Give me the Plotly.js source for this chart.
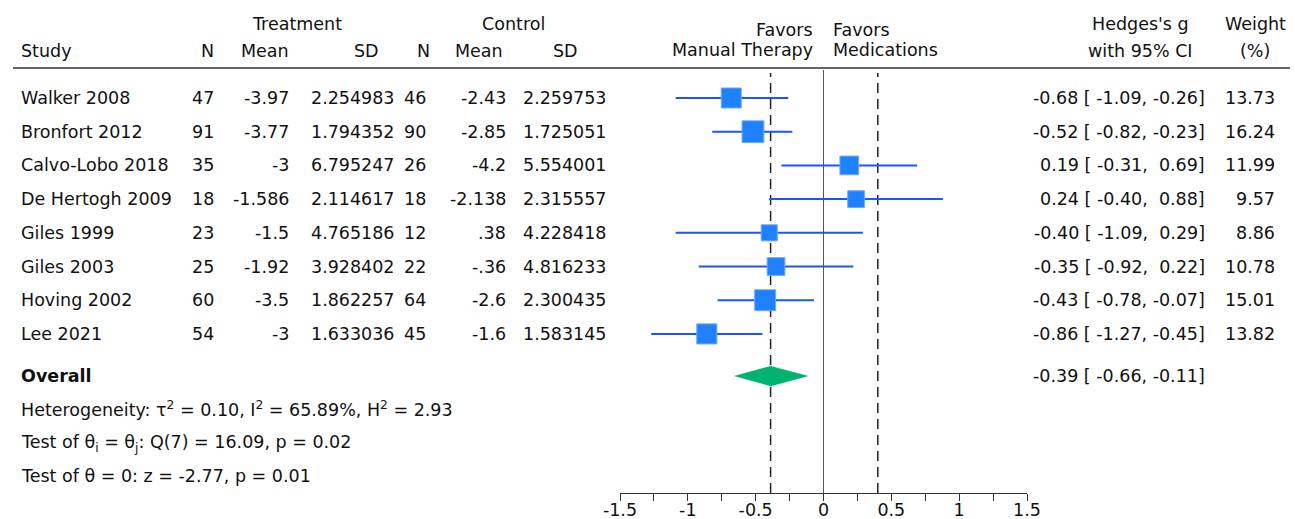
<!DOCTYPE html>
<html>
<head>
<meta charset="utf-8">
<script src="https://cdn.plot.ly/plotly-3.0.1.min.js"></script>
<style>html,body{margin:0;padding:0;background:#fff;}#chart{width:1295px;height:519px;}</style>
</head>
<body>
<div id="chart"></div>
<script>
// ---------- data ----------
const studies = ["Walker 2008","Bronfort 2012","Calvo-Lobo 2018","De Hertogh 2009","Giles 1999","Giles 2003","Hoving 2002","Lee 2021"];
const treatN = [47, 91, 35, 18, 23, 25, 60, 54];
const treatMean = [-3.97, -3.77, -3, -1.586, -1.5, -1.92, -3.5, -3];
const treatSD = ["2.254983","1.794352","6.795247","2.114617","4.765186","3.928402","1.862257","1.633036"];
const ctrlN = [46, 90, 26, 18, 12, 22, 64, 45];
const ctrlMean = [-2.43, -2.85, -4.2, -2.138, 0.38, -0.36, -2.6, -1.6];
const ctrlSD = ["2.259753","1.725051","5.554001","2.315557","4.228418","4.816233","2.300435","1.583145"];
const hedgesG = [-0.68, -0.52, 0.19, 0.24, -0.40, -0.35, -0.43, -0.86];
const ciLow = [-1.09, -0.82, -0.31, -0.40, -1.09, -0.92, -0.78, -1.27];
const ciHigh = [-0.26, -0.23, 0.69, 0.88, 0.29, 0.22, -0.07, -0.45];
const weights = [13.73, 16.24, 11.99, 9.57, 8.86, 10.78, 15.01, 13.82];
const overallG = -0.39, overallLow = -0.66, overallHigh = -0.11;
const refLines = [-0.39, 0.40];
const tickVals = [-1.5, -1, -0.5, 0, 0.5, 1, 1.5];
const tickLabels = ["-1.5", "-1", "-0.5", "0", "0.5", "1", "1.5"];
const minorTickVals = [-1.25, -0.75, -0.25, 0.25, 0.75, 1.25];
const statLines = [
  "Heterogeneity: \u03c4<sup>2</sup> = 0.10, I<sup>2</sup> = 65.89%, H<sup>2</sup> = 2.93",
  "Test of \u03b8<sub>i</sub> = \u03b8<sub>j</sub>: Q(7) = 16.09, p = 0.02",
  "Test of \u03b8 = 0: z = -2.77, p = 0.01"
];

// ---------- layout helpers ----------
const W = 1295, H = 519;
const L = 620, R = 268, T = 70, B = 26;
const plotW = W - L - R, plotH = H - T - B;
const X = px => (px - L) / plotW;
const Y = py => (H - B - py) / plotH;
const FONT = "DejaVu Sans, sans-serif";
const FS = 17.5;
const TXT = "#111";
const rowY = studies.map((s, i) => i + 1);
const overallY = 9.25;
const statY = [10.23, 11.24, 12.22];
const NB = "\u00a0";

const fmtMean = v => String(v).replace(/^(-?)0\./, "$1.");
const f2 = v => v.toFixed(2);
const ciText = (g, lo, hi) => f2(g) + NB + "[" + NB + f2(lo) + "," + NB + (hi >= 0 ? NB : "") + f2(hi) + "]";

const ann = [];
function txt(text, x, y, anchor) {
  ann.push({text: text, x: x, y: y, xref: "paper", yref: "y",
    xanchor: anchor, yanchor: "middle", showarrow: false,
    font: {family: FONT, size: FS, color: TXT}});
}
function head(text, x, py, anchor) {
  ann.push({text: text, x: x, y: Y(py), xref: "paper", yref: "paper",
    xanchor: anchor, yanchor: "middle", showarrow: false,
    font: {family: FONT, size: FS, color: TXT}});
}

// headers
head("Treatment", X(297), 24, "center");
head("Control", X(513), 24, "center");
head("Study", X(19), 51, "left");
head("N", X(216), 51, "right");
head("Mean", X(291), 51, "right");
head("SD", X(381), 51, "right");
head("N", X(432), 51, "right");
head("Mean", X(505), 51, "right");
head("SD", X(580), 51, "right");
head("Favors", X(815), 30, "right");
head("Manual Therapy", X(815), 50, "right");
head("Favors", X(831), 30, "left");
head("Medications", X(831), 50, "left");
head("Hedges's g", X(1140), 24, "center");
head("with 95% CI", X(1140), 51, "center");
head("Weight", X(1255), 24, "center");
head("(%)", X(1255), 51, "center");

// rows
studies.forEach((s, i) => {
  const y = rowY[i];
  txt(s, X(19), y, "left");
  txt(String(treatN[i]), X(216), y, "right");
  txt(fmtMean(treatMean[i]), X(291), y, "right");
  txt(treatSD[i], X(397), y, "right");
  txt(String(ctrlN[i]), X(428), y, "right");
  txt(fmtMean(ctrlMean[i]), X(508), y, "right");
  txt(ctrlSD[i], X(609), y, "right");
  txt(ciText(hedgesG[i], ciLow[i], ciHigh[i]), X(1207), y, "right");
  txt(f2(weights[i]), X(1277), y, "right");
});
txt("<b>Overall</b>", X(19), overallY, "left");
txt(ciText(overallG, overallLow, overallHigh), X(1207), overallY, "right");
statLines.forEach((s, i) => txt(s, X(19), statY[i], "left"));

// shapes
const shapes = [
  {type: "line", xref: "paper", yref: "paper", x0: X(13), x1: X(1290), y0: Y(68), y1: Y(68),
   line: {color: "#333", width: 1.5}},
  {type: "line", xref: "x", yref: "paper", x0: 0, x1: 0, y0: 0, y1: Y(70),
   line: {color: "#555", width: 1}, layer: "below"}
];
refLines.forEach(v => shapes.push({type: "line", xref: "x", yref: "paper", x0: v, x1: v, y0: 0, y1: Y(73),
  line: {color: "#222", width: 1.5, dash: "10px,6px"}, layer: "below"}));

// traces
const ciTrace = {
  x: hedgesG, y: rowY, type: "scatter", mode: "markers",
  marker: {size: 0.1, color: "rgba(0,0,0,0)"},
  error_x: {type: "data", symmetric: false,
    array: hedgesG.map((g, i) => ciHigh[i] - g),
    arrayminus: hedgesG.map((g, i) => g - ciLow[i]),
    width: 0, thickness: 2, color: "#1a55ff"},
  hoverinfo: "skip", showlegend: false
};
const sqTrace = {
  x: hedgesG, y: rowY, type: "scatter", mode: "markers",
  marker: {symbol: "square", size: weights.map(w => 5.4 * Math.sqrt(w)), opacity: 1,
    color: "#1e82ff", line: {color: "#6fa6ff", width: 1}},
  showlegend: false
};
const dh = 0.3;
const diamond = {
  x: [overallLow, overallG, overallHigh, overallG, overallLow],
  y: [overallY, overallY - dh, overallY, overallY + dh, overallY],
  type: "scatter", mode: "lines", fill: "toself", fillcolor: "#00b36e",
  line: {width: 0, color: "#00b36e"}, showlegend: false
};

const layout = {
  width: W, height: H,
  margin: {l: L, r: R, t: T, b: B},
  paper_bgcolor: "#fff", plot_bgcolor: "#fff",
  showlegend: false,
  xaxis: {range: [-1.5, 1.5], tickmode: "array", tickvals: tickVals, ticktext: tickLabels,
    ticks: "outside", ticklen: 7, tickwidth: 1, tickcolor: "#333", ticklabelstandoff: -6,
    minor: {tickmode: "array", tickvals: minorTickVals, ticks: "outside", ticklen: 7, tickwidth: 1, tickcolor: "#333", showgrid: false},
    showline: true, linecolor: "#333", linewidth: 1, showgrid: false, zeroline: false,
    tickfont: {family: FONT, size: FS, color: TXT}, fixedrange: true},
  yaxis: {range: [12.72, 0.169], visible: false, showgrid: false, zeroline: false, fixedrange: true},
  annotations: ann, shapes: shapes
};
Plotly.newPlot("chart", [ciTrace, diamond, sqTrace], layout, {displayModeBar: false, staticPlot: true});
</script>
</body>
</html>
